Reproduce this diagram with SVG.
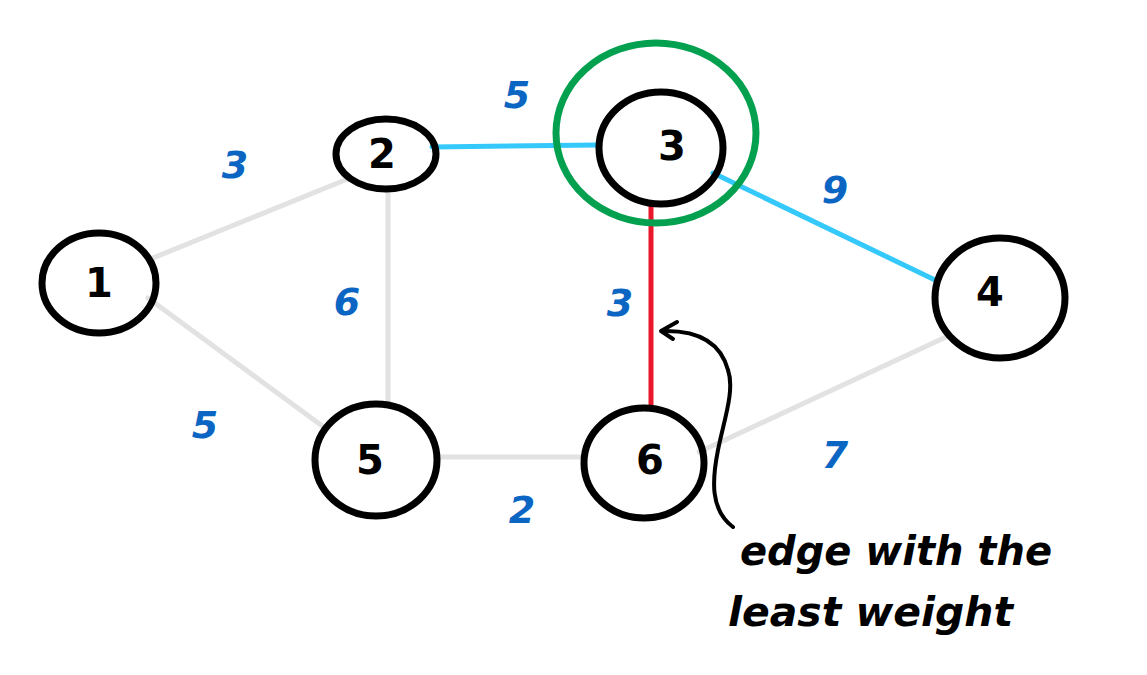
<svg xmlns="http://www.w3.org/2000/svg" width="1147" height="675" viewBox="0 0 1147 675">
<style>
.node{fill:none;stroke:#000;stroke-width:7}
.nl{font-family:"DejaVu Sans",sans-serif;font-size:40px;font-weight:bold;fill:#000;text-anchor:middle;dominant-baseline:central}
.w{font-family:"DejaVu Sans",sans-serif;font-size:38px;font-weight:bold;font-style:italic;fill:#0b66c3;text-anchor:middle;dominant-baseline:central}
.g{stroke:#e2e2e2;stroke-width:5;stroke-linecap:round;fill:none}
.c{stroke:#35c9fb;stroke-width:5;stroke-linecap:round;fill:none}
.r{stroke:#e8172a;stroke-width:5;stroke-linecap:round;fill:none}
.note{font-family:"DejaVu Sans",sans-serif;font-size:40px;font-weight:bold;font-style:italic;fill:#000}
</style>
<rect width="1147" height="675" fill="#fff"/>
<g id="connectors">
<line class="g" x1="148" y1="260" x2="350" y2="178"/>
<line class="g" x1="148" y1="298" x2="325" y2="428"/>
<line class="g" x1="388" y1="190" x2="388" y2="405"/>
<line class="c" x1="432" y1="147" x2="598" y2="145"/>
<line class="c" x1="713" y1="173" x2="935" y2="280"/>
<line class="r" x1="651" y1="203" x2="651" y2="407"/>
<line class="g" x1="436" y1="457" x2="584" y2="457"/>
<line class="g" x1="699" y1="452" x2="946" y2="337"/>
</g>
<g id="weights">
<text class="w" x="235" y="165">3</text>
<text class="w" x="517" y="95">5</text>
<text class="w" x="835" y="190">9</text>
<text class="w" x="347" y="302">6</text>
<text class="w" x="620" y="303">3</text>
<text class="w" x="205" y="425">5</text>
<text class="w" x="522" y="510">2</text>
<text class="w" x="835" y="455">7</text>
</g>
<g id="highlight">
<ellipse cx="656" cy="133" rx="100" ry="90" fill="none" stroke="#03a14f" stroke-width="7"/>
</g>
<g id="node1"><ellipse class="node" cx="99" cy="283" rx="57" ry="50"/><text class="nl" x="99" y="283">1</text></g>
<g id="node2"><ellipse class="node" cx="386" cy="154" rx="50" ry="35"/><text class="nl" x="382" y="154">2</text></g>
<g id="node3"><ellipse class="node" cx="661" cy="148" rx="62" ry="56"/><text class="nl" x="672" y="146">3</text></g>
<g id="node4"><ellipse class="node" cx="1000" cy="298" rx="65" ry="60"/><text class="nl" x="990" y="292">4</text></g>
<g id="node5"><ellipse class="node" cx="376" cy="460" rx="61" ry="56"/><text class="nl" x="370" y="460">5</text></g>
<g id="node6"><ellipse class="node" cx="644" cy="463" rx="60" ry="55"/><text class="nl" x="650" y="460">6</text></g>
<g id="annotation">
<path d="M733,527 C710,510 712,480 718,450 C724,420 735,390 728,370 C720,340 695,330 662,331" fill="none" stroke="#000" stroke-width="4" stroke-linecap="round"/>
<path d="M677,322 L661,331 L673,339" fill="none" stroke="#000" stroke-width="4" stroke-linecap="round" stroke-linejoin="round"/>
<text class="note" x="740" y="565" textLength="312" lengthAdjust="spacingAndGlyphs">edge with the</text>
<text class="note" x="728" y="626" textLength="285" lengthAdjust="spacingAndGlyphs">least weight</text>
</g>
</svg>
